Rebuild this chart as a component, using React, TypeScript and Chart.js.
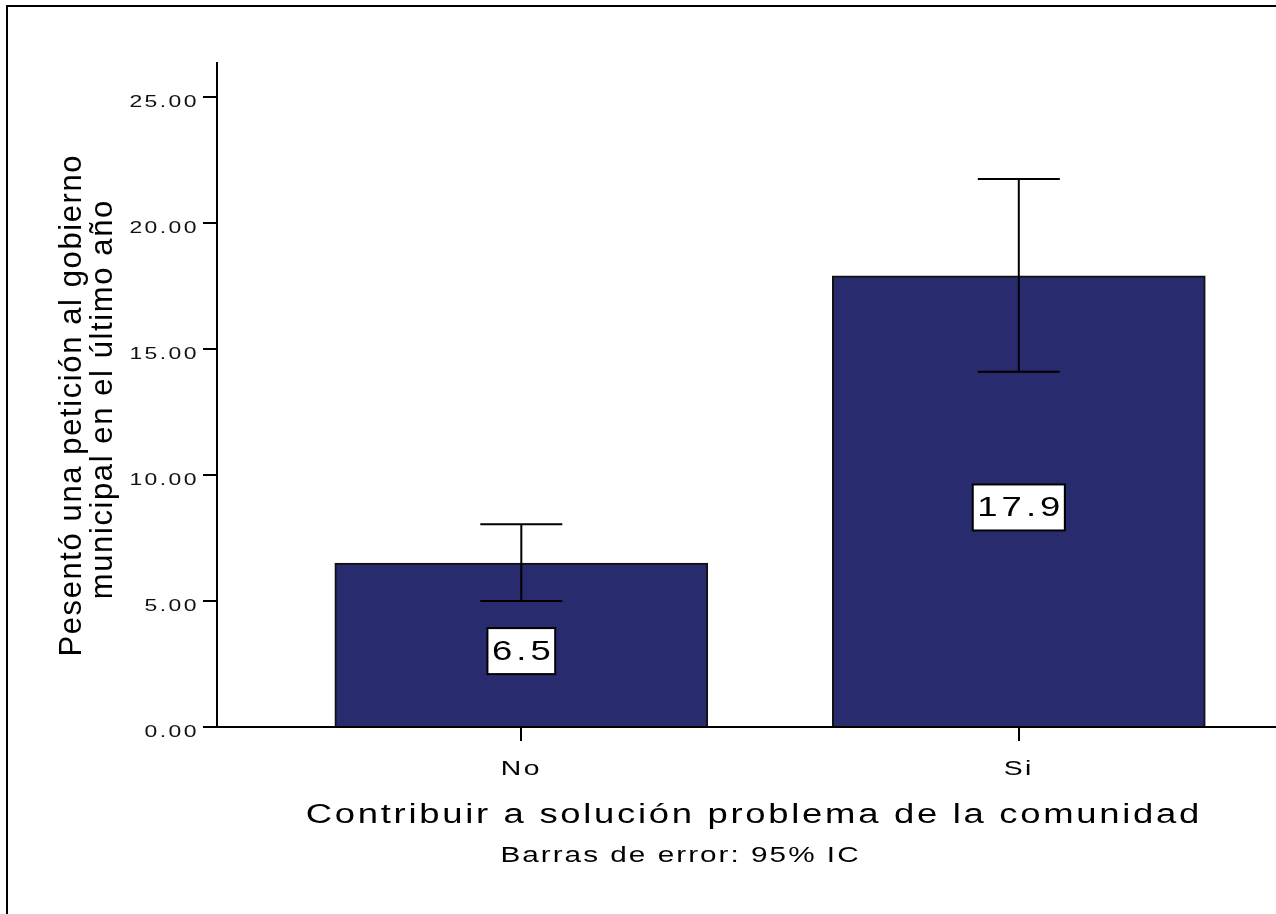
import React, { useEffect, useRef } from 'react';
import { Chart, registerables } from 'chart.js';

Chart.register(...registerables);

// ---- data ----
const categories = ['No', 'Si'];
const means = [6.5, 17.9];
const ciLower = [5.0, 14.1];
const ciUpper = [8.05, 21.75];
const valueLabels = ['6.5', '17.9'];
const yTicks = [0, 5, 10, 15, 20, 25];
const yTitleLines = ['Pesentó una petición al gobierno', 'municipal en el último año'];
const xTitle = 'Contribuir a solución problema de la comunidad';
const footnote = 'Barras de error: 95% IC';

const FONT = '"Liberation Sans", Arial, Helvetica, sans-serif';
const SX = 1.35; // horizontal stretch of the SPSS-like lettering

function drawText(ctx: any, text: string, x: number, y: number, sx: number, spacing: number, align: string) {
  ctx.save();
  ctx.letterSpacing = `${spacing}px`;
  ctx.textAlign = align;
  ctx.translate(x, y);
  ctx.scale(sx, 1);
  let dx = 0;
  if (align === 'center') dx = spacing / 2;
  else if (align === 'right') dx = spacing;
  ctx.fillText(text, dx, 0);
  ctx.restore();
}

const spssPlugin = {
  id: 'spssDecor',
  beforeDraw(chart: any) {
    const ctx = chart.ctx;
    ctx.save();
    ctx.strokeStyle = '#000';
    ctx.lineWidth = 2;
    ctx.beginPath();
    ctx.moveTo(7, chart.height + 10);
    ctx.lineTo(7, 6);
    ctx.lineTo(chart.width + 10, 6);
    ctx.stroke();
    ctx.restore();
    // stretch axis tick lettering while the scales are drawn
    const orig = CanvasRenderingContext2D.prototype.fillText;
    ctx.letterSpacing = '1.8px';
    ctx.fillText = function (text: string, x: number, y: number) {
      this.save();
      this.translate(x, y);
      this.scale(SX, 1);
      orig.call(this, text, 0, 0);
      this.restore();
    };
  },
  beforeDatasetsDraw(chart: any) {
    const ctx = chart.ctx;
    delete ctx.fillText;
    ctx.letterSpacing = '0px';
  },
  afterDatasetsDraw(chart: any) {
    const ctx = chart.ctx;
    const y = chart.scales.y;
    const meta = chart.getDatasetMeta(0);
    ctx.save();
    // error bars
    ctx.strokeStyle = '#000';
    ctx.lineWidth = 2;
    meta.data.forEach((bar: any, i: number) => {
      const x = bar.x;
      const yl = y.getPixelForValue(ciLower[i]);
      const yu = y.getPixelForValue(ciUpper[i]);
      ctx.beginPath();
      ctx.moveTo(x, yl);
      ctx.lineTo(x, yu);
      ctx.moveTo(x - 41, yu);
      ctx.lineTo(x + 41, yu);
      ctx.moveTo(x - 41, yl);
      ctx.lineTo(x + 41, yl);
      ctx.stroke();
    });
    // value labels
    const s = 3;
    ctx.font = `27px ${FONT}`;
    ctx.textBaseline = 'middle';
    meta.data.forEach((bar: any, i: number) => {
      const x = bar.x;
      const mid = (y.getPixelForValue(means[i]) + y.getPixelForValue(0)) / 2 + 6;
      ctx.letterSpacing = `${s}px`;
      const w = (ctx.measureText(valueLabels[i]).width - s) * SX;
      const bw = w + 9;
      const bh = 46;
      ctx.fillStyle = '#fff';
      ctx.fillRect(x - bw / 2, mid - bh / 2, bw, bh);
      ctx.strokeStyle = '#000';
      ctx.lineWidth = 2;
      ctx.strokeRect(x - bw / 2, mid - bh / 2, bw, bh);
      ctx.fillStyle = '#000';
      drawText(ctx, valueLabels[i], x, mid + 1, SX, s, 'center');
    });
    ctx.restore();
  },
  afterDraw(chart: any) {
    const ctx = chart.ctx;
    ctx.save();
    ctx.fillStyle = '#000';
    ctx.textBaseline = 'alphabetic';
    // x title
    ctx.font = `27px ${FONT}`;
    drawText(ctx, xTitle, 752.5, 823, SX, 2, 'center');
    // footnote
    ctx.font = `22px ${FONT}`;
    drawText(ctx, footnote, 679.5, 862, SX, 1.5, 'center');
    // y title (rotated)
    const s = 1.6;
    ctx.font = `31px ${FONT}`;
    ctx.letterSpacing = `${s}px`;
    ctx.textAlign = 'center';
    const pos = [
      { x: 81, y: 406 },
      { x: 112, y: 400 },
    ];
    yTitleLines.forEach((line, i) => {
      ctx.save();
      ctx.translate(pos[i].x, pos[i].y);
      ctx.rotate(-Math.PI / 2);
      ctx.fillText(line, s / 2, 0);
      ctx.restore();
    });
    ctx.restore();
    ctx.letterSpacing = '0px';
  },
};

export default function App() {
  const ref = useRef<HTMLCanvasElement>(null);
  useEffect(() => {
    const axisGrid = {
      display: true,
      drawOnChartArea: false,
      drawTicks: true,
      tickLength: 14,
      color: '#000',
      lineWidth: 2,
      offset: false,
    };
    const chart = new Chart(ref.current as HTMLCanvasElement, {
      type: 'bar',
      data: {
        datasets: [
          {
            data: categories.map((_, i) => ({ x: i, y: means[i] })) as any,
            backgroundColor: '#292b6f',
            borderColor: '#111',
            borderWidth: 2,
            barThickness: 373,
          },
        ],
      },
      options: {
        responsive: false,
        animation: false,
        devicePixelRatio: 1,
        layout: { padding: { left: 0, top: 63, right: 0, bottom: 0 } },
        plugins: { legend: { display: false }, tooltip: { enabled: false } },
        scales: {
          x: {
            type: 'linear',
            offset: false,
            min: -0.6117,
            max: 1.517,
            afterBuildTicks: (sc: any) => {
              sc.ticks = categories.map((_, i) => ({ value: i }));
            },
            afterFit: (sc: any) => {
              sc.height = 187;
            },
            grid: axisGrid,
            border: { display: true, color: '#000', width: 2 },
            ticks: {
              callback: (v: any) => categories[v] ?? '',
              font: { family: FONT, size: 21 },
              color: '#000',
              padding: 16,
              maxRotation: 0,
              autoSkip: false,
            },
          },
          y: {
            min: 0,
            max: 26.35,
            afterBuildTicks: (sc: any) => {
              sc.ticks = yTicks.map((v) => ({ value: v }));
            },
            afterFit: (sc: any) => {
              sc.width = 217;
            },
            grid: axisGrid,
            border: { display: true, color: '#000', width: 2 },
            ticks: {
              callback: (v: any) => Number(v).toFixed(2),
              font: { family: FONT, size: 17 },
              color: '#111',
              padding: 4,
              labelOffset: 5,
              autoSkip: false,
            },
          },
        },
      } as any,
      plugins: [spssPlugin],
    });
    return () => chart.destroy();
  }, []);
  return (
    <div style={{ position: 'fixed', left: 0, top: 0, width: 1276, height: 914, background: '#fff' }}>
      <canvas ref={ref} width={1276} height={914} style={{ display: 'block', width: 1276, height: 914 }} />
    </div>
  );
}
